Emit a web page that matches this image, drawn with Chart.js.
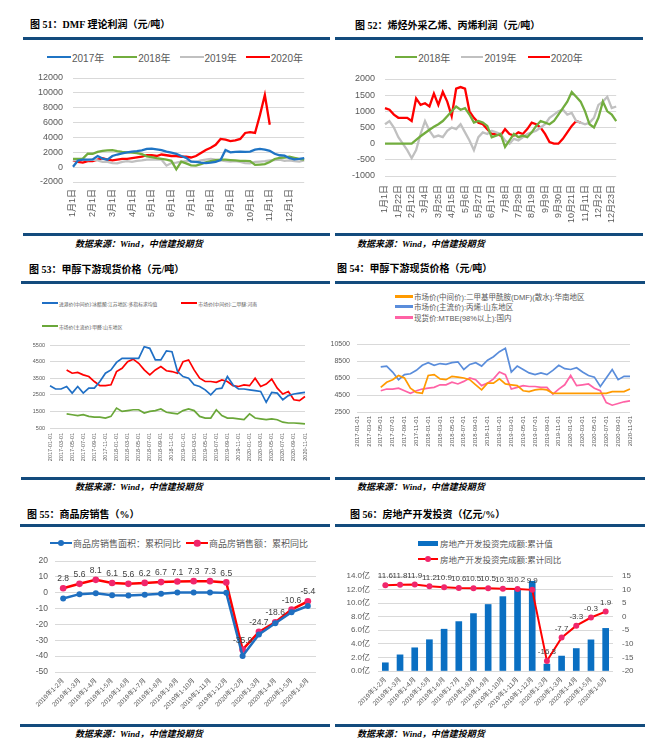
<!DOCTYPE html>
<html>
<head>
<meta charset="utf-8">
<script src="https://cdn.jsdelivr.net/npm/chart.js@4.4.0/dist/chart.umd.min.js"></script>
<style>
body{margin:0;width:665px;height:750px;position:relative;background:#fff;overflow:hidden}
.t{position:absolute;font-family:"Liberation Serif","Noto Sans CJK SC",serif;font-weight:bold;font-size:10px;line-height:12px;color:#000;white-space:nowrap}
.rule{position:absolute;height:3px;background:#134b7d}
.src{position:absolute;font-family:"Liberation Serif","Noto Sans CJK SC",serif;font-style:italic;font-weight:bold;font-size:9px;line-height:11px;color:#000;white-space:nowrap}
.box{position:absolute}
.lg{position:absolute;font-family:"Liberation Sans","Noto Sans CJK SC",sans-serif;color:#595959;white-space:nowrap;display:flex}
.it{display:flex;align-items:center}
.sw{display:inline-block;position:relative;flex:none}
.dot{position:absolute;border-radius:50%;top:50%;left:50%;transform:translate(-50%,-50%)}
</style>
</head>
<body>

<div class="t" style="left:30px;top:19px">图 51：DMF 理论利润（元/吨）</div>
<div class="rule" style="left:23px;top:37px;width:307px"></div>
<div class="lg" id="lg51" style="left:20px;top:51px;width:310px;height:12px;justify-content:center"></div>
<div class="box" style="left:15px;top:70px;width:300px;height:160px"><canvas id="c51"></canvas></div>
<div class="rule" style="left:23px;top:233px;width:307px"></div>
<div class="src" style="left:75px;top:238.5px">数据来源：Wind，中信建投期货</div>

<div class="t" style="left:355px;top:19.5px">图 52：烯烃外采乙烯、丙烯利润（元/吨）</div>
<div class="rule" style="left:335px;top:37px;width:308px"></div>
<div class="lg" id="lg52" style="left:335px;top:51px;width:308px;height:12px;justify-content:center"></div>
<div class="box" style="left:335px;top:70px;width:292px;height:160px"><canvas id="c52"></canvas></div>
<div class="rule" style="left:335px;top:233px;width:308px"></div>
<div class="src" style="left:357px;top:238.5px">数据来源：Wind，中信建投期货</div>

<div class="t" style="left:29px;top:264px">图 53：甲醇下游现货价格（元/吨）</div>
<div class="rule" style="left:21px;top:280.5px;width:309px"></div>
<div class="lg" id="lg53a" style="left:42px;top:299.5px;height:7px"></div>
<div class="lg" id="lg53b" style="left:42px;top:322.5px;height:7px"></div>
<div class="box" style="left:10px;top:335px;width:305px;height:135px"><canvas id="c53"></canvas></div>
<div class="rule" style="left:21px;top:476.5px;width:309px"></div>
<div class="src" style="left:75px;top:482px">数据来源：Wind，中信建投期货</div>

<div class="t" style="left:337px;top:263px">图 54：甲醇下游现货价格（元/吨）</div>
<div class="rule" style="left:335px;top:280.5px;width:310px"></div>
<div class="lg" id="lg54" style="left:395px;top:290.75px;flex-direction:column"></div>
<div class="box" style="left:320px;top:334px;width:320px;height:125px"><canvas id="c54"></canvas></div>
<div class="rule" style="left:335px;top:476.5px;width:310px"></div>
<div class="src" style="left:357px;top:482px">数据来源：Wind，中信建投期货</div>

<div class="t" style="left:27px;top:509px">图 55：商品房销售（%）</div>
<div class="rule" style="left:20px;top:523.5px;width:310px"></div>
<div class="lg" id="lg55" style="left:50px;top:537.5px;height:11px"></div>
<div class="box" style="left:10px;top:550px;width:316px;height:165px"><canvas id="c55"></canvas></div>
<div class="rule" style="left:20px;top:723.5px;width:310px"></div>
<div class="src" style="left:75px;top:728.5px">数据来源：Wind，中信建投期货</div>

<div class="t" style="left:350px;top:509px">图 56：房地产开发投资（亿元/%）</div>
<div class="rule" style="left:335px;top:523.5px;width:310px"></div>
<div class="lg" id="lg56" style="left:418px;top:535px;flex-direction:column"></div>
<div class="box" style="left:338px;top:565px;width:305px;height:150px"><canvas id="c56"></canvas></div>
<div class="rule" style="left:335px;top:723.5px;width:310px"></div>
<div class="src" style="left:357px;top:728.5px">数据来源：Wind，中信建投期货</div>

<script>
// ---- fig 51: DMF profit, weekly points (4 per month) ----
const ticks51 = ['1月1日', '2月1日', '3月1日', '4月1日', '5月1日', '6月1日', '7月1日', '8月1日', '9月1日', '10月1日', '11月1日', '12月1日'];
const names51 = ['2017年', '2018年', '2019年', '2020年'];
const dmf2017 = [50, 900, 1000, 1000, 1050, 1500, 1150, 1000, 1500, 1700, 1850, 2000, 2100, 2150, 2250, 2450, 2500, 2400, 2300, 2100, 1950, 1800, 1500, 1250, 750, 700, 600, 550, 600, 700, 950, 2300, 2000, 2050, 2100, 2050, 2100, 2350, 2450, 2350, 2200, 1800, 1600, 1550, 1200, 1050, 1100, 1200];
const dmf2018 = [1100, 1100, 1150, 1800, 1800, 2050, 2200, 2250, 2300, 2150, 2050, 2000, 1950, 1900, 1750, 1450, 1350, 1200, 1100, 1000, 850, -300, 750, 500, 250, 200, 400, 650, 800, 950, 1000, 1000, 950, 900, 850, 850, 800, 300, 350, 400, 700, 1100, 1250, 1300, 1400, 1250, 1100, 1000];
const dmf2019 = [900, 950, 1000, 950, 1000, 900, 700, 700, 550, 500, 700, 800, 700, 850, 900, 1000, 1050, 1000, 1000, 200, 550, 600, 750, 800, 800, 700, 900, 1000, 1100, 1000, 900, 800, 750, 800, 700, 550, 500, 700, 750, 800, 900, 950, 1000, 850, 900, 800, 750, 900];
const dmf2020 = [900, 700, 600, 800, 800, 1000, 1200, 1000, 900, 1000, 1100, 1100, 1200, 1300, 1400, 1600, 1600, 1500, 1700, 1600, 1500, 1500, 1400, 1400, 1300, 1500, 1900, 2300, 2600, 3000, 3800, 3700, 3500, 3600, 3800, 4600, 4700, 4600, 7000, 9700, 5700, null, null, null, null, null, null, null];

// ---- fig 52: olefin profit, weekly points ----
const ticks52 = ['1月1日', '1月22日', '2月12日', '3月4日', '3月25日', '4月15日', '5月6日', '5月27日', '6月17日', '7月8日', '7月29日', '8月19日', '9月9日', '9月30日', '10月21日', '11月11日', '12月2日', '12月23日'];
const names52 = ['2018年', '2019年', '2020年'];
const olefin2018 = [0, 0, 0, 0, 0, 0, 0, 120, 230, 330, 430, 520, 600, 700, 850, 1000, 1150, 1050, 1100, 900, 650, 700, 650, 550, 200, 250, 300, -100, 100, 300, 200, 250, 200, 350, 550, 700, 650, 600, 700, 900, 1100, 1300, 1600, 1450, 1300, 1000, 600, 500, 800, 1300, 1000, 900, 700];
const olefin2019 = [600, 700, 500, 200, 0, -200, -450, -200, 300, 700, 400, 200, 250, 200, 400, 500, 450, 600, 350, 100, -200, 200, 350, 300, 400, 350, 300, 100, 0, 150, 100, 200, 300, 350, 400, 500, 600, 800, 900, 1000, 1050, 900, 950, 700, 650, 600, 650, 800, 1200, 1300, 1450, 1100, 1150];
const olefin2020 = [1100, 1050, 900, 800, 800, 800, 700, 1400, 1200, 1250, 1150, 1550, 1200, 1600, 1300, 850, 1700, 1750, 1700, 1000, 800, 650, 600, 450, 300, 300, 250, 450, 300, 250, 350, 300, 450, 650, 600, 500, 300, 50, 0, 0, 150, 350, 550, 700, 650, null, null, null, null, null, null, null, null];

// ---- fig 53 / 54: monthly points 2017-01 .. 2020-11 ----
const ticksMonth = ['2017-01-01', '2017-03-01', '2017-05-01', '2017-07-01', '2017-09-01', '2017-11-01', '2018-01-01', '2018-03-01', '2018-05-01', '2018-07-01', '2018-09-01', '2018-11-01', '2019-01-01', '2019-03-01', '2019-05-01', '2019-07-01', '2019-09-01', '2019-11-01', '2020-01-01', '2020-03-01', '2020-05-01', '2020-07-01', '2020-09-01', '2020-11-01'];
const names53 = ['进港价(中间价):冰醋酸:江苏地区:多指标求均值', '市场价(中间价):二甲醚:河南', '市场价(主流价):甲醛:山东地区'];
const aceticAcid = [3050, 2850, 2850, 3000, 2600, 3000, 2600, 2900, 2900, 3300, 3800, 4000, 4450, 4700, 4700, 4700, 4700, 5400, 5300, 4600, 4600, 5150, 5100, 3900, 3600, 3500, 3100, 3000, 2800, 2500, 2850, 2900, 3600, 3100, 2850, 2850, 2800, 2750, 2700, 2050, 2650, 2600, 2200, 2450, 2550, 2600, 2650];
const dme = [null, null, null, 4000, 3800, 3850, 3700, 3600, 3300, 3050, 3050, 3100, 3900, 4100, 4500, 4650, 4400, 4000, 3700, 4000, 4200, 3950, 3900, 3800, 4500, 4600, 4000, 3500, 3300, 3300, 3250, 3400, 3300, 3050, 3000, 3100, 3050, 3500, 3000, 3150, 3450, 2900, 2550, 2700, 2200, 2150, 2400];
const formaldehyde = [null, null, null, 1350, 1300, 1250, 1300, 1200, 1150, 1150, 1100, 1200, 1700, 1500, 1550, 1600, 1600, 1400, 1500, 1550, 1650, 1450, 1400, 1350, 1550, 1650, 1550, 1200, 1100, 1100, 1600, 1250, 1100, 1100, 1050, 1000, 1350, 1100, 1050, 1000, 1050, 1000, 850, 800, 800, 780, 750];

const names54 = ['市场价(中间价):二甲基甲酰胺(DMF)(散水):华南地区', '市场价(主流价):丙烯:山东地区', '现货价:MTBE(98%以上):国内'];
const dmfPrice = [null, null, null, null, 5400, 6000, 6300, 6800, 6500, 5300, 4800, 4700, 6800, 6900, 6400, 6300, 6700, 6600, 6500, 6300, 5700, 5100, 5900, 5900, 6400, 5800, 5700, 5600, 5000, 4900, 5100, 5200, 5100, 4700, 4700, 4700, 4700, 4700, 4700, 4700, 4700, 4700, 4700, 4900, 4900, 4900, 5200];
const propylene = [null, null, null, null, 7800, 7900, 7200, 6300, 6900, 7000, 7400, 8000, 8300, 8000, 8200, 8100, 8300, 8400, 7500, 8100, 8300, 7900, 8600, 9000, 9600, 10000, 7200, 7900, 7500, 7100, 6900, 7100, 6900, 7400, 8000, 7600, 7500, 7700, 7200, 6800, 6600, 5500, 6500, 7500, 6300, 6700, 6700];
const mtbe = [null, null, null, null, 5000, 5200, 5200, 5300, 5000, 4700, 5000, 5200, 5300, 5400, 5700, 5700, 6000, 5800, 6100, 6500, 6300, 5600, 5900, 6400, 7200, 6900, 5200, 5400, 5600, 5500, 5500, 5400, 5400, 4600, 5200, 5700, 6800, 5600, 5700, 5800, 5300, 5000, 3600, 3300, 3500, 3700, 3800];

// ---- fig 55 / 56: cumulative monthly ----
const periods = ['2019年1-2月', '2019年1-3月', '2019年1-4月', '2019年1-5月', '2019年1-6月', '2019年1-7月', '2019年1-8月', '2019年1-9月', '2019年1-10月', '2019年1-11月', '2019年1-12月', '2020年1-2月', '2020年1-3月', '2020年1-4月', '2020年1-5月', '2020年1-6月'];
const names55 = ['商品房销售面积：累积同比', '商品房销售额：累积同比'];
const salesArea = [-3.6, -0.9, -0.3, -1.6, -1.8, -1.3, -0.6, 0.1, 0.1, 0.2, -0.1, -39.9, -26.3, -19.3, -12.3, -8.4];
const salesValue = [2.8, 5.6, 8.1, 6.1, 5.6, 6.2, 6.7, 7.1, 7.3, 7.3, 6.5, -35.9, -24.7, -18.6, -10.6, -5.4];
const names56 = ['房地产开发投资完成额:累计值', '房地产开发投资完成额:累计同比'];
const investTotal = [1.21, 2.38, 3.42, 4.61, 6.16, 7.28, 8.46, 9.80, 10.96, 12.13, 13.22, 1.01, 2.20, 3.31, 4.59, 6.28];
const investYoY = [11.6, 11.8, 11.9, 11.2, 10.9, 10.6, 10.5, 10.5, 10.3, 10.2, 9.9, -16.3, -7.7, -3.3, -0.3, 1.9];

const SANS = '"Liberation Sans","Noto Sans CJK SC",sans-serif';
const CLEAR = 'rgba(0,0,0,0)';
Chart.defaults.animation = false;
Chart.defaults.font.family = SANS;
Chart.defaults.color = '#595959';
Chart.defaults.maintainAspectRatio = false;
Chart.defaults.plugins.legend.display = false;
Chart.defaults.plugins.tooltip.enabled = false;

// draws the value above each point of datasets flagged with valueLabel
const valueLabels = {
    id: 'valueLabels',
    afterDatasetsDraw(chart) {
        const ctx = chart.ctx;
        chart.data.datasets.forEach((ds, di) => {
            if (!ds.valueLabel) return;
            const meta = chart.getDatasetMeta(di);
            ctx.save();
            ctx.font = ds.valueLabel.size + 'px ' + SANS;
            ctx.fillStyle = '#404040';
            ctx.textAlign = 'center';
            ctx.textBaseline = 'bottom';
            meta.data.forEach((el, i) => {
                ctx.fillText(ds.data[i].toFixed(1), el.x, el.y - ds.valueLabel.gap);
            });
            ctx.restore();
        });
    }
};

// label gap is made with an invisible tick mark, ticks.padding stays 0
// (Chart.js adds ticks.padding to the plot margins as well)
function xAxis(o) {
    const ticks = { autoSkip: false, minRotation: o.rot, maxRotation: o.rot, padding: 0, font: { size: o.fs }, color: '#595959' };
    if (o.cb) ticks.callback = o.cb;
    return {
        type: 'category', offset: !!o.offset,
        grid: { display: false, drawTicks: true, tickLength: o.pad, tickColor: CLEAR }, border: { display: false },
        ticks: ticks,
        afterFit(s) { s.height = o.h; }
    };
}

function yAxis(o) {
    const ticks = { stepSize: o.step, padding: 0, font: { size: o.fs }, color: '#595959', callback: o.cb || (v => String(v)) };
    return {
        position: o.pos || 'left', min: o.min, max: o.max,
        grid: { display: o.grid !== false, color: '#d9d9d9', lineWidth: 1, drawTicks: true, tickLength: o.pad, tickColor: CLEAR }, border: { display: false },
        ticks: ticks,
        afterFit(s) { s.width = o.w; }
    };
}

function line(data, color, width) {
    return { data: data, borderColor: color, backgroundColor: color, borderWidth: width, pointRadius: 0, tension: 0, fill: false };
}

// nudge layout padding until the plot area sits where the reference has it
function place(ch, t) {
    const p = { top: 0, right: 0, bottom: 0, left: 0 };
    for (let k = 0; k < 4; k++) {
        const a = ch.chartArea;
        p.top += t.top - a.top;
        p.left += t.left - a.left;
        p.right += a.right - t.right;
        p.bottom += a.bottom - t.bottom;
        ch.options.layout.padding = Object.assign({}, p);
        ch.update('none');
    }
}

function legend(id, items, o) {
    const el = document.getElementById(id);
    el.style.fontSize = o.size + 'px';
    el.style.gap = o.gap + 'px';
    items.forEach(it => {
        const d = document.createElement('div');
        d.className = 'it';
        if (o.rowh) d.style.height = o.rowh + 'px';
        const s = document.createElement('span');
        s.className = 'sw';
        s.style.width = o.sw + 'px';
        s.style.height = (it.h || o.swh) + 'px';
        s.style.background = it.color;
        s.style.marginRight = (o.tg || 1) + 'px';
        if (it.dot) {
            const c = document.createElement('span');
            c.className = 'dot';
            c.style.width = c.style.height = it.dotSize + 'px';
            c.style.background = it.dot;
            s.appendChild(c);
        }
        d.appendChild(s);
        d.appendChild(document.createTextNode(it.label));
        el.appendChild(d);
    });
}

function idx(n) { return Array.from({ length: n }, (_, i) => i); }

// fig 51
const col51 = ['#1f74c4', '#72ad3e', '#c0c0c0', '#ff0000'];
legend('lg51', names51.map((n, i) => ({ label: n, color: col51[i] })), { size: 10, gap: 9, sw: 24, swh: 2.5 });
const ch51 = new Chart(document.getElementById('c51'), {
    type: 'line',
    data: {
        labels: idx(dmf2017.length),
        datasets: [dmf2017, dmf2018, dmf2019, dmf2020].map((d, i) => line(d, col51[i], 2.3))
    },
    options: {
        layout: { padding: 0 },
        scales: {
            x: xAxis({ rot: 90, pad: 7, fs: 9, h: 48, cb: (v, i) => i % 4 === 0 ? ticks51[i / 4] : '' }),
            y: yAxis({ min: -2000, max: 12000, step: 2000, pad: 10, fs: 9, w: 58 })
        }
    }
});
place(ch51, { left: 58, top: 8, right: 290, bottom: 112 });

// fig 52
const col52 = ['#72ad3e', '#c0c0c0', '#ff0000'];
legend('lg52', names52.map((n, i) => ({ label: n, color: col52[i] })), { size: 10, gap: 11, sw: 22, swh: 2.5 });
const ch52 = new Chart(document.getElementById('c52'), {
    type: 'line',
    data: {
        labels: idx(olefin2018.length),
        datasets: [olefin2018, olefin2019, olefin2020].map((d, i) => line(d, col52[i], 2.3))
    },
    options: {
        layout: { padding: 0 },
        scales: {
            x: xAxis({ rot: 90, pad: 9, fs: 9, h: 54, cb: (v, i) => i % 3 === 0 ? ticks52[i / 3] : '' }),
            y: yAxis({ min: -1000, max: 2000, step: 500, pad: 10, fs: 9, w: 50 })
        }
    }
});
place(ch52, { left: 50, top: 9, right: 282, bottom: 106 });

// fig 53
const col53 = ['#1f6fc5', '#ff0000', '#6aa739'];
legend('lg53a', [{ label: names53[0], color: col53[0] }, { label: names53[1], color: col53[1] }], { size: 4.8, gap: 24, sw: 16, swh: 2.5 });
legend('lg53b', [{ label: names53[2], color: col53[2] }], { size: 4.8, gap: 0, sw: 16, swh: 2.5 });
const ch53 = new Chart(document.getElementById('c53'), {
    type: 'line',
    data: {
        labels: idx(aceticAcid.length),
        datasets: [aceticAcid, dme, formaldehyde].map((d, i) => line(d, col53[i], 1.7))
    },
    options: {
        layout: { padding: 0 },
        scales: {
            x: xAxis({ rot: 90, pad: 5, fs: 5.5, h: 42, cb: (v, i) => i % 2 === 0 ? ticksMonth[i / 2] : '' }),
            y: yAxis({ min: 500, max: 5500, step: 1000, pad: 5, fs: 5.5, w: 40 })
        }
    }
});
place(ch53, { left: 40, top: 10, right: 295, bottom: 93 });

// fig 54
const col54 = ['#ff9a00', '#5a8ddb', '#ff62a5'];
legend('lg54', names54.map((n, i) => ({ label: n, color: col54[i] })), { size: 7.5, gap: 0, sw: 18, swh: 3, rowh: 10.5 });
const ch54 = new Chart(document.getElementById('c54'), {
    type: 'line',
    data: {
        labels: idx(dmfPrice.length),
        datasets: [dmfPrice, propylene, mtbe].map((d, i) => line(d, col54[i], 1.7))
    },
    options: {
        layout: { padding: 0 },
        scales: {
            x: xAxis({ rot: 90, pad: 4, fs: 6, h: 47, cb: (v, i) => i % 2 === 0 ? ticksMonth[i / 2] : '' }),
            y: yAxis({ min: 2500, max: 10500, step: 1000, pad: 7, fs: 7, w: 37 })
        }
    }
});
place(ch54, { left: 37, top: 10, right: 310, bottom: 78 });

// fig 55
legend('lg55', [
    { label: names55[0], color: '#1f6fc0', dot: '#1f6fc0', dotSize: 6 },
    { label: names55[1], color: '#ff0000', dot: '#f0266c', dotSize: 6.5 }
], { size: 9, gap: 5, sw: 22, swh: 2.5 });
const ch55 = new Chart(document.getElementById('c55'), {
    type: 'line',
    data: {
        labels: periods,
        datasets: [
            Object.assign(line(salesArea, '#1f6fc0', 2.5), { pointRadius: 3, pointBorderWidth: 0, pointBackgroundColor: '#1f6fc0' }),
            Object.assign(line(salesValue, '#ff0000', 2.5), { pointRadius: 3.3, pointBorderWidth: 0, pointBackgroundColor: '#f0266c', valueLabel: { size: 8.5, gap: 5 } })
        ]
    },
    options: {
        layout: { padding: 0 },
        scales: {
            x: xAxis({ rot: 45, pad: 5, fs: 6.5, h: 43, offset: true }),
            y: yAxis({ min: -50, max: 20, step: 10, pad: 7, fs: 8.5, w: 45 })
        }
    },
    plugins: [valueLabels]
});
place(ch55, { left: 45, top: 11, right: 306, bottom: 122 });

// fig 56
legend('lg56', [
    { label: names56[0], color: '#0a6fc2', h: 5 },
    { label: names56[1], color: '#ff0000', dot: '#f0266c', dotSize: 6 }
], { size: 8.5, gap: 0, sw: 20, swh: 2.5, rowh: 16, tg: 2 });
const ch56 = new Chart(document.getElementById('c56'), {
    type: 'bar',
    data: {
        labels: periods,
        datasets: [
            { type: 'bar', data: investTotal, backgroundColor: '#0a6fc2', barThickness: 6, yAxisID: 'y', order: 2 },
            Object.assign(line(investYoY, '#ff0000', 2), { type: 'line', yAxisID: 'y1', order: 1, pointRadius: 3, pointBorderWidth: 0, pointBackgroundColor: '#f0266c', valueLabel: { size: 8, gap: 5 } })
        ]
    },
    options: {
        layout: { padding: 0 },
        scales: {
            x: xAxis({ rot: 45, pad: 5, fs: 6.5, h: 44, offset: true }),
            y: yAxis({ min: 0, max: 14, step: 2, pad: 8, fs: 8, w: 40, cb: v => v.toFixed(1) + '亿' }),
            y1: yAxis({ pos: 'right', min: -20, max: 15, step: 5, pad: 9, fs: 8, w: 30, grid: false })
        }
    },
    plugins: [valueLabels]
});
place(ch56, { left: 40, top: 11, right: 275, bottom: 106 });
</script>
</body>
</html>
